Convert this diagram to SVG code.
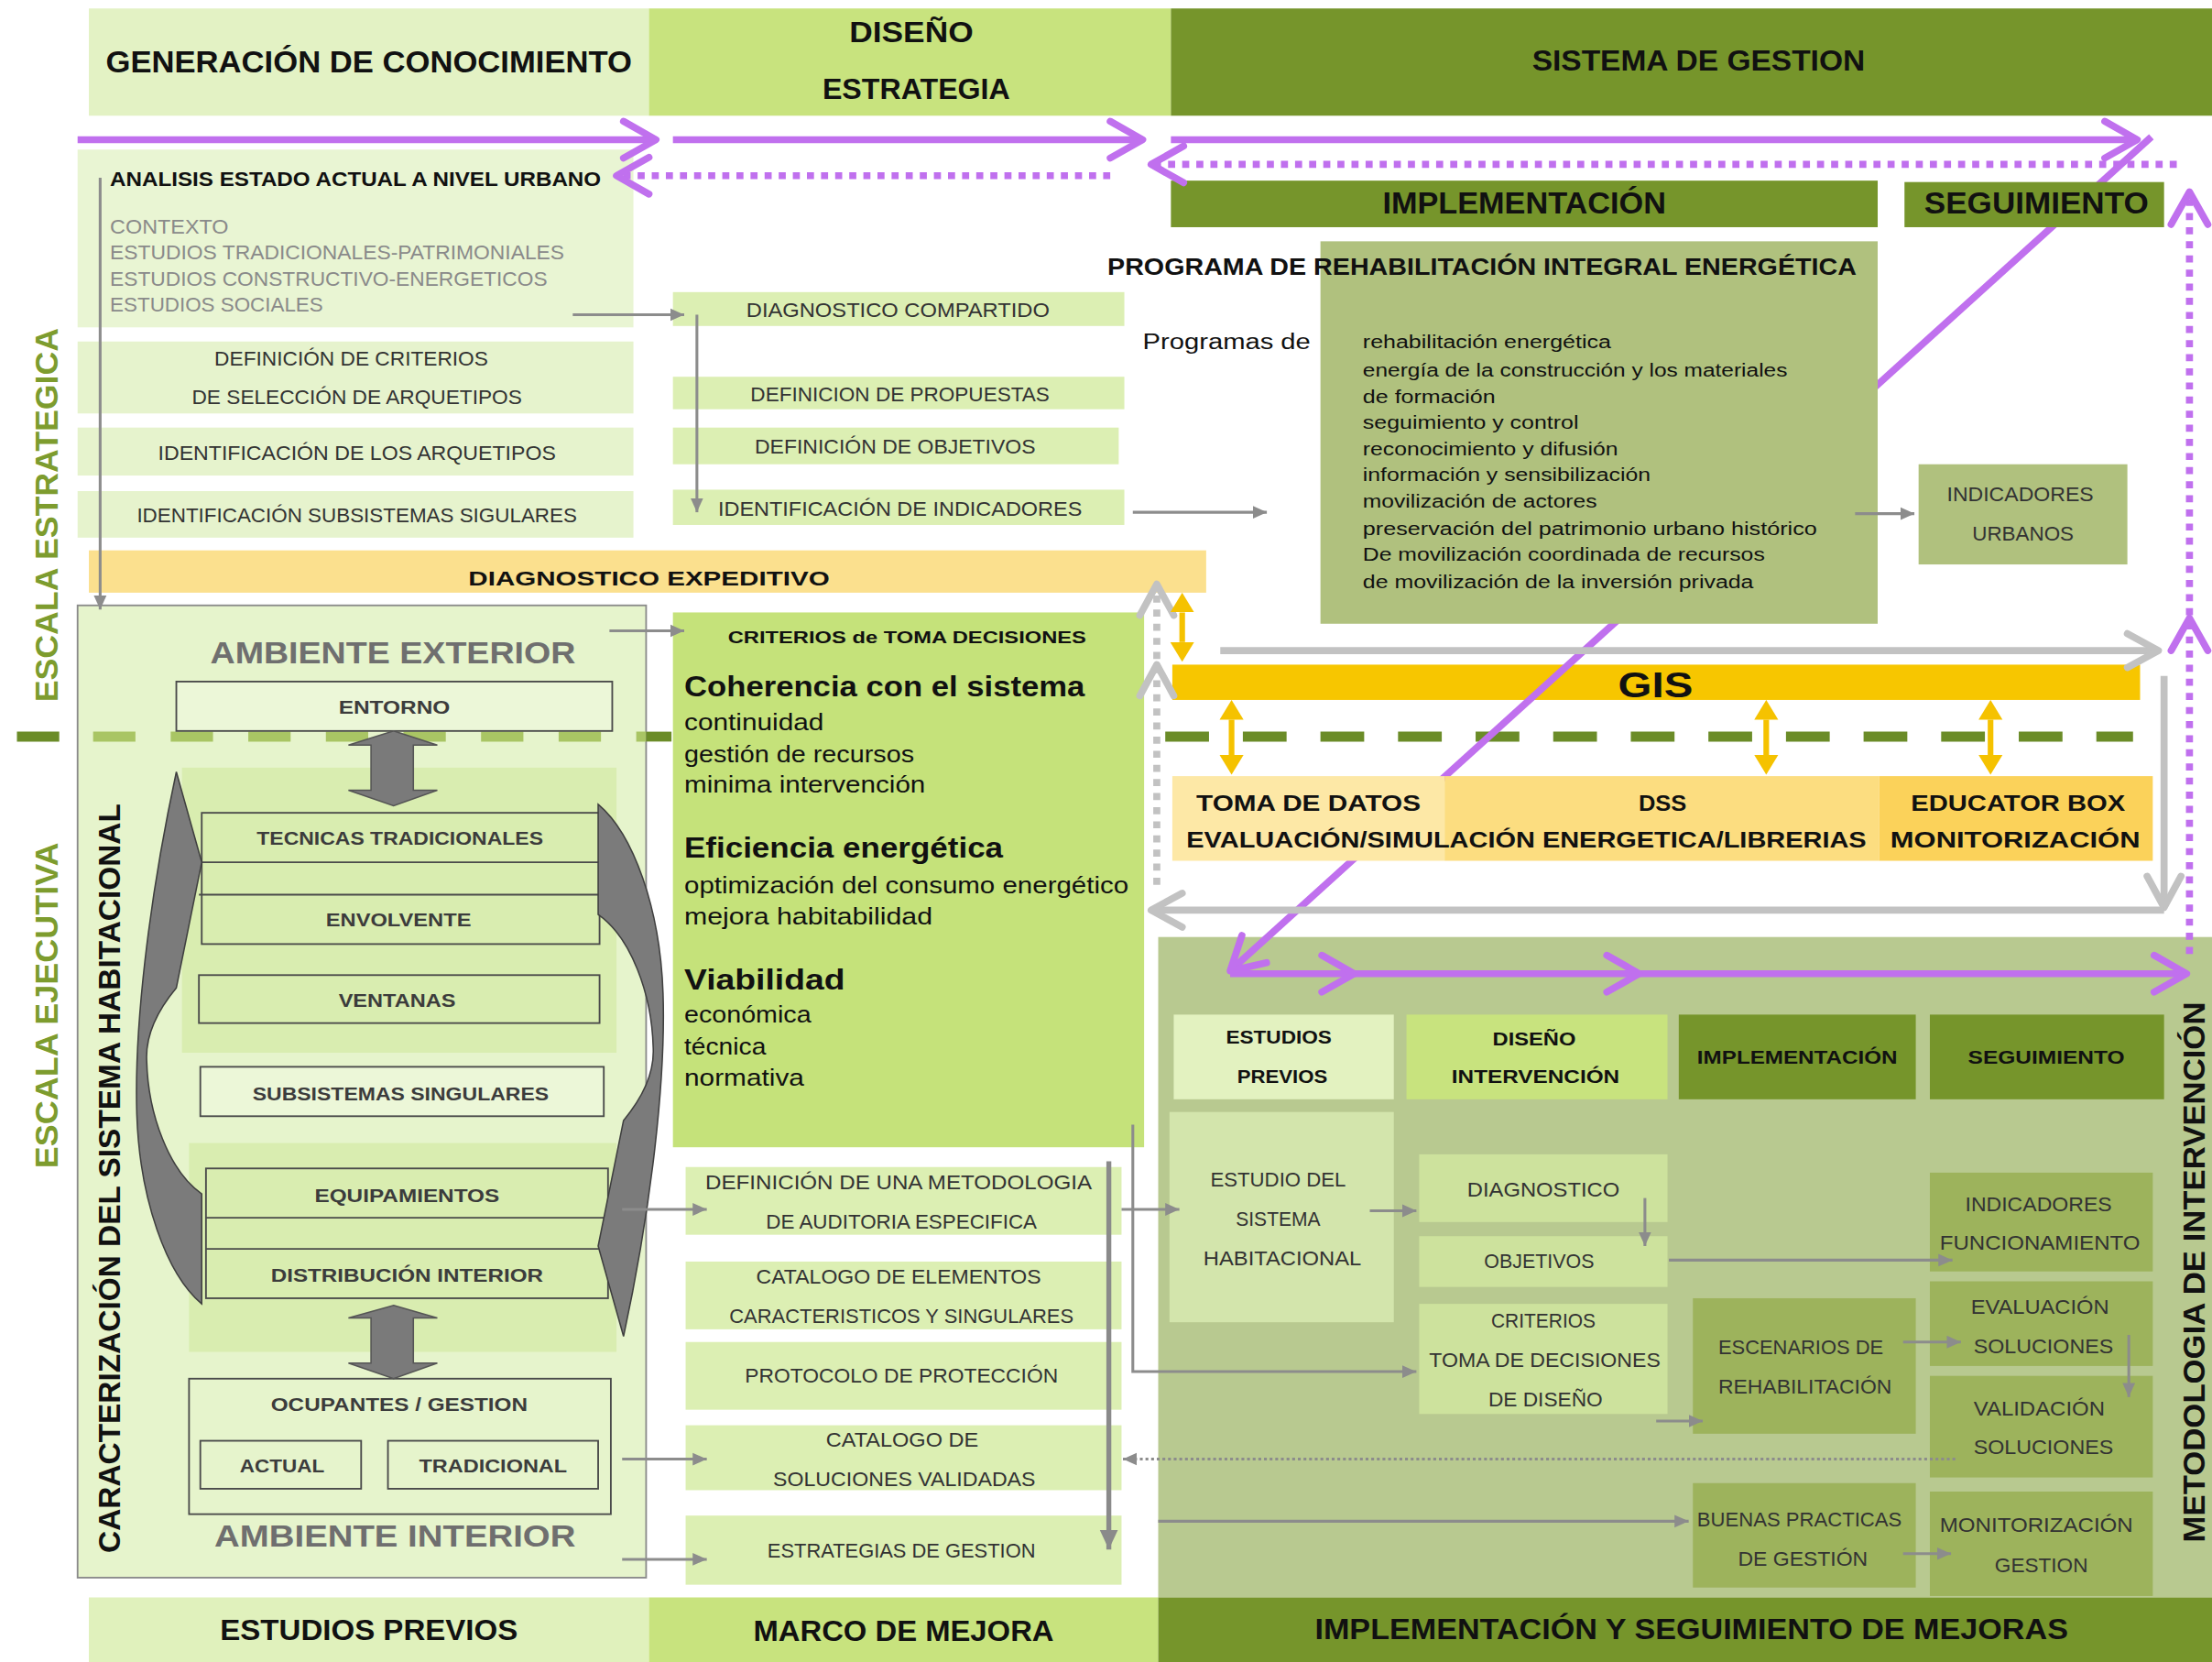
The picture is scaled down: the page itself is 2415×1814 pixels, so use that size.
<svg xmlns="http://www.w3.org/2000/svg" width="2415" height="1814" viewBox="0 0 2415 1814">
<style>
.f{font-family:"Liberation Sans",Arial,"DejaVu Sans",sans-serif}
.c{text-anchor:middle;dominant-baseline:central}
.s{text-anchor:start;dominant-baseline:central}
.a{text-anchor:start}
.b{font-weight:bold}
.k{fill:#111}
.g{fill:#333}
.lg{fill:#8a8a8a}
.gb{fill:#3c3c3c}
.am{fill:#6f6f6f}
.bx{stroke:#4a4a4a;stroke-width:1.2}
.pur{stroke:#c070ee;stroke-width:5;fill:none}
.dot{stroke-dasharray:5 5}
.gl{stroke:#c2c2c2;stroke-width:5;fill:none}
.cn{stroke:#8c8c8c;stroke-width:2;fill:none}
.ya{stroke:#f5c200;stroke-width:4;fill:none}
.pale{fill:#e3f2c4}
.lime{fill:#c8e37e}
.olive{fill:#76952b}
.lbox{fill:#e6f3cd}
.mbox{fill:#dcefb3}
.dbox{fill:#9db35c}
.mid{fill:#cde29d}
</style>
<defs>
<marker id="mPur" viewBox="-30 -16 34 32" refX="0" refY="0" markerWidth="34" markerHeight="32" markerUnits="userSpaceOnUse" orient="auto" overflow="visible"><path d="M-23,-13 L0,0 L-23,13" fill="none" stroke="#c070ee" stroke-width="5" stroke-linecap="round" stroke-linejoin="round"/></marker>
<marker id="mGry" viewBox="-30 -16 34 32" refX="0" refY="0" markerWidth="34" markerHeight="32" markerUnits="userSpaceOnUse" orient="auto" overflow="visible"><path d="M-22,-12 L0,0 L-22,12" fill="none" stroke="#c2c2c2" stroke-width="5" stroke-linecap="round" stroke-linejoin="round"/></marker>
<marker id="mTri" viewBox="-10 -5 10 10" refX="0" refY="0" markerWidth="10" markerHeight="10" markerUnits="userSpaceOnUse" orient="auto"><path d="M-10,-4.5 L0,0 L-10,4.5 Z" fill="#8c8c8c"/></marker>
<marker id="mTriL" viewBox="-14 -7 14 14" refX="0" refY="0" markerWidth="14" markerHeight="14" markerUnits="userSpaceOnUse" orient="auto"><path d="M-14,-6.5 L0,0 L-14,6.5 Z" fill="#8a8a8a"/></marker>
<marker id="mYel" viewBox="0 -9 14 18" refX="0" refY="0" markerWidth="14" markerHeight="18" markerUnits="userSpaceOnUse" orient="auto-start-reverse"><path d="M0,-8.5 L14,0 L0,8.5 Z" fill="#f5c200"/></marker>
</defs>
<rect width="2415" height="1814" fill="#ffffff"/>
<g transform="scale(1.5402)">

<!-- header row -->
<g id="hdr-generacion"><rect x="63" y="6" width="397" height="76" class="pale"/>
<text class="f c b k" x="261.5" y="44" font-size="21" textLength="373" lengthAdjust="spacingAndGlyphs">GENERACIÓN DE CONOCIMIENTO</text></g>
<g id="hdr-diseno"><rect x="460" y="6" width="370" height="76" class="lime"/>
<text class="f c b k" x="646" y="23" font-size="20" textLength="88" lengthAdjust="spacingAndGlyphs">DISEÑO</text>
<text class="f c b k" x="649.5" y="63" font-size="20" textLength="133" lengthAdjust="spacingAndGlyphs">ESTRATEGIA</text></g>
<g id="hdr-sistema"><rect x="830" y="6" width="738" height="76" class="olive"/>
<text class="f c b k" x="1204" y="43" font-size="20" textLength="236" lengthAdjust="spacingAndGlyphs">SISTEMA DE GESTION</text></g>

<!-- left strategic column -->
<g id="analisis-urbano"><rect x="55" y="106" width="394" height="126" fill="#e9f5d3"/>
<text class="f s b k" x="78" y="127" font-size="14" textLength="348" lengthAdjust="spacingAndGlyphs">ANALISIS ESTADO ACTUAL A NIVEL URBANO</text>
<text class="f s lg" x="78" y="161" font-size="14" textLength="84" lengthAdjust="spacingAndGlyphs">CONTEXTO</text>
<text class="f s lg" x="78" y="179" font-size="14" textLength="322" lengthAdjust="spacingAndGlyphs">ESTUDIOS TRADICIONALES-PATRIMONIALES</text>
<text class="f s lg" x="78" y="197.5" font-size="14" textLength="310" lengthAdjust="spacingAndGlyphs">ESTUDIOS CONSTRUCTIVO-ENERGETICOS</text>
<text class="f s lg" x="78" y="216" font-size="14" textLength="151" lengthAdjust="spacingAndGlyphs">ESTUDIOS SOCIALES</text></g>
<g id="criterios-arquetipos"><rect x="55" y="242" width="394" height="51" class="lbox"/>
<text class="f c g" x="249" y="254" font-size="14" textLength="194" lengthAdjust="spacingAndGlyphs">DEFINICIÓN DE CRITERIOS</text>
<text class="f c g" x="253" y="281.5" font-size="14" textLength="234" lengthAdjust="spacingAndGlyphs">DE SELECCIÓN DE ARQUETIPOS</text></g>
<g id="identificacion-arquetipos"><rect x="55" y="303" width="394" height="34" class="lbox"/>
<text class="f c g" x="253" y="321" font-size="14" textLength="282" lengthAdjust="spacingAndGlyphs">IDENTIFICACIÓN DE LOS ARQUETIPOS</text></g>
<g id="identificacion-subsistemas"><rect x="55" y="348" width="394" height="33" class="lbox"/>
<text class="f c g" x="253" y="365" font-size="14" textLength="312" lengthAdjust="spacingAndGlyphs">IDENTIFICACIÓN SUBSISTEMAS SIGULARES</text></g>

<!-- middle strategic column -->
<g id="diagnostico-compartido"><rect x="477" y="207" width="320" height="24" class="mbox"/>
<text class="f c g" x="636.5" y="220" font-size="14" textLength="215" lengthAdjust="spacingAndGlyphs">DIAGNOSTICO COMPARTIDO</text></g>
<g id="definicion-propuestas"><rect x="477" y="267" width="320" height="23" class="mbox"/>
<text class="f c g" x="638" y="279.5" font-size="14" textLength="212" lengthAdjust="spacingAndGlyphs">DEFINICION DE PROPUESTAS</text></g>
<g id="definicion-objetivos"><rect x="477" y="303" width="316" height="26" class="mbox"/>
<text class="f c g" x="634.5" y="316.5" font-size="14" textLength="199" lengthAdjust="spacingAndGlyphs">DEFINICIÓN DE OBJETIVOS</text></g>
<g id="identificacion-indicadores"><rect x="477" y="347" width="320" height="25" class="mbox"/>
<text class="f c g" x="638" y="360.5" font-size="14" textLength="258" lengthAdjust="spacingAndGlyphs">IDENTIFICACIÓN DE INDICADORES</text></g>

<g id="diagnostico-expeditivo"><rect x="63" y="390" width="792" height="30" fill="#fbe08e"/>
<text class="f c b k" x="460" y="410" font-size="14" textLength="256" lengthAdjust="spacingAndGlyphs">DIAGNOSTICO EXPEDITIVO</text></g>

<!-- right strategic -->
<g id="implementacion-top"><rect x="830" y="128" width="501" height="33" class="olive"/>
<text class="f c b k" x="1080.5" y="144" font-size="21" textLength="201" lengthAdjust="spacingAndGlyphs">IMPLEMENTACIÓN</text></g>

<!-- caracterizacion panel -->
<g id="caracterizacion-panel"><rect x="55" y="429" width="403" height="689" fill="#e6f4cc" stroke="#8a8a8a" stroke-width="1.2"/>
<rect x="129" y="544" width="308" height="202" fill="#d9edb0"/>
<rect x="134" y="810" width="303" height="148" fill="#d9edb0"/></g>

<g id="divisoria">
<line x1="66" y1="522" x2="458" y2="522" stroke="#a9c564" stroke-width="7" stroke-dasharray="30 25"/>
<line x1="458" y1="522" x2="476" y2="522" stroke="#6b8c28" stroke-width="7"/>
<line x1="826" y1="522" x2="1512" y2="522" stroke="#6b8c28" stroke-width="7" stroke-dasharray="31 24"/>
<line x1="12" y1="522" x2="42" y2="522" stroke="#6b8c28" stroke-width="7"/></g>

<g id="criterios-decision"><rect x="477" y="434" width="334" height="379" fill="#c5e27a"/>
<text class="f c b k" x="643" y="452" font-size="11.5" textLength="254" lengthAdjust="spacingAndGlyphs">CRITERIOS de TOMA DECISIONES</text>
<text class="f a b k" x="485" y="493.5" font-size="20" textLength="284" lengthAdjust="spacingAndGlyphs">Coherencia con el sistema</text>
<text class="f a k" x="485" y="517.5" font-size="16.5" textLength="99" lengthAdjust="spacingAndGlyphs">continuidad</text>
<text class="f a k" x="485" y="540" font-size="16.5" textLength="163" lengthAdjust="spacingAndGlyphs">gestión de recursos</text>
<text class="f a k" x="485" y="561.7" font-size="16.5" textLength="171" lengthAdjust="spacingAndGlyphs">minima intervención</text>
<text class="f a b k" x="485" y="608" font-size="20" textLength="226" lengthAdjust="spacingAndGlyphs">Eficiencia energética</text>
<text class="f a k" x="485" y="632.8" font-size="16.5" textLength="315" lengthAdjust="spacingAndGlyphs">optimización del consumo energético</text>
<text class="f a k" x="485" y="654.8" font-size="16.5" textLength="176" lengthAdjust="spacingAndGlyphs">mejora habitabilidad</text>
<text class="f a b k" x="485" y="701" font-size="20" textLength="114" lengthAdjust="spacingAndGlyphs">Viabilidad</text>
<text class="f a k" x="485" y="724.4" font-size="16.5" textLength="90" lengthAdjust="spacingAndGlyphs">económica</text>
<text class="f a k" x="485" y="747.5" font-size="16.5" textLength="58" lengthAdjust="spacingAndGlyphs">técnica</text>
<text class="f a k" x="485" y="769.5" font-size="16.5" textLength="85" lengthAdjust="spacingAndGlyphs">normativa</text></g>

<!-- middle executive boxes -->
<g id="metodologia-auditoria"><rect x="486" y="827" width="309" height="48" class="mbox"/>
<text class="f c g" x="637" y="838" font-size="14" textLength="274" lengthAdjust="spacingAndGlyphs">DEFINICIÓN DE UNA METODOLOGIA</text>
<text class="f c g" x="639" y="865.5" font-size="14" textLength="192" lengthAdjust="spacingAndGlyphs">DE AUDITORIA ESPECIFICA</text></g>
<g id="catalogo-elementos"><rect x="486" y="894" width="309" height="48" class="mbox"/>
<text class="f c g" x="637" y="904.5" font-size="14" textLength="202" lengthAdjust="spacingAndGlyphs">CATALOGO DE ELEMENTOS</text>
<text class="f c g" x="639" y="932.5" font-size="14" textLength="244" lengthAdjust="spacingAndGlyphs">CARACTERISTICOS Y SINGULARES</text></g>
<g id="protocolo-proteccion"><rect x="486" y="951" width="309" height="48" class="mbox"/>
<text class="f c g" x="639" y="975" font-size="14" textLength="222" lengthAdjust="spacingAndGlyphs">PROTOCOLO DE PROTECCIÓN</text></g>
<g id="catalogo-soluciones"><rect x="486" y="1010" width="309" height="46" class="mbox"/>
<text class="f c g" x="639.5" y="1020.5" font-size="14" textLength="108" lengthAdjust="spacingAndGlyphs">CATALOGO DE</text>
<text class="f c g" x="641" y="1048" font-size="14" textLength="186" lengthAdjust="spacingAndGlyphs">SOLUCIONES VALIDADAS</text></g>
<g id="estrategias-gestion"><rect x="486" y="1074" width="309" height="49" class="mbox"/>
<text class="f c g" x="639" y="1099" font-size="14" textLength="190" lengthAdjust="spacingAndGlyphs">ESTRATEGIAS DE GESTION</text></g>

<!-- GIS -->
<g id="gis"><rect x="831" y="471" width="686" height="25" fill="#f7c600"/>
<text class="f c b k" x="1173.5" y="485.5" font-size="25" textLength="53" lengthAdjust="spacingAndGlyphs">GIS</text></g>

<!-- bottom right panel -->
<g id="metodologia-panel"><rect x="821" y="664" width="747" height="468" fill="#b8c990"/>
<text class="f c b k" transform="translate(1555,901.5) rotate(-90)" x="0" y="0" font-size="22" textLength="383" lengthAdjust="spacingAndGlyphs">METODOLOGIA DE INTERVENCIÓN</text></g>

<!-- connectors under boxes -->
<g id="connectors-under">
<line x1="1525" y1="97" x2="872" y2="688" class="pur" marker-end="url(#mPur)"/>
</g>

<g id="seguimiento-top"><rect x="1350" y="129" width="184" height="32" class="olive"/>
<text class="f c b k" x="1443.5" y="144" font-size="21" textLength="159" lengthAdjust="spacingAndGlyphs">SEGUIMIENTO</text></g>

<g id="programa-rehabilitacion"><rect x="936" y="171" width="395" height="271" fill="#b0c17e"/>
<text class="f c b k" x="1050.5" y="189" font-size="17" textLength="531" lengthAdjust="spacingAndGlyphs">PROGRAMA DE REHABILITACIÓN INTEGRAL ENERGÉTICA</text>
<text class="f s k" x="810" y="242" font-size="15" textLength="119" lengthAdjust="spacingAndGlyphs">Programas de</text>
<text class="f s k" x="966" y="242" font-size="13.5" textLength="176" lengthAdjust="spacingAndGlyphs">rehabilitación energética</text>
<text class="f s k" x="966" y="262.3" font-size="13.5" textLength="301" lengthAdjust="spacingAndGlyphs">energía de la construcción y los materiales</text>
<text class="f s k" x="966" y="280.5" font-size="13.5" textLength="94" lengthAdjust="spacingAndGlyphs">de formación</text>
<text class="f s k" x="966" y="299" font-size="13.5" textLength="153" lengthAdjust="spacingAndGlyphs">seguimiento y control</text>
<text class="f s k" x="966" y="318" font-size="13.5" textLength="181" lengthAdjust="spacingAndGlyphs">reconocimiento y difusión</text>
<text class="f s k" x="966" y="336.3" font-size="13.5" textLength="204" lengthAdjust="spacingAndGlyphs">información y sensibilización</text>
<text class="f s k" x="966" y="355" font-size="13.5" textLength="166" lengthAdjust="spacingAndGlyphs">movilización de actores</text>
<text class="f s k" x="966" y="374" font-size="13.5" textLength="322" lengthAdjust="spacingAndGlyphs">preservación del patrimonio urbano histórico</text>
<text class="f s k" x="966" y="392.8" font-size="13.5" textLength="285" lengthAdjust="spacingAndGlyphs">De movilización coordinada de recursos</text>
<text class="f s k" x="966" y="411.7" font-size="13.5" textLength="277" lengthAdjust="spacingAndGlyphs">de movilización de la inversión privada</text></g>

<g id="indicadores-urbanos"><rect x="1360" y="329" width="148" height="71" fill="#b0c17e"/>
<text class="f c g" x="1432" y="350" font-size="14" textLength="104" lengthAdjust="spacingAndGlyphs">INDICADORES</text>
<text class="f c g" x="1434" y="378.5" font-size="14" textLength="72" lengthAdjust="spacingAndGlyphs">URBANOS</text></g>

<g id="toma-datos"><rect x="831" y="550" width="193" height="60" fill="#fde8a6"/>
<text class="f c b k" x="927.5" y="569" font-size="16" textLength="159" lengthAdjust="spacingAndGlyphs">TOMA DE DATOS</text></g>
<g id="dss"><rect x="1024" y="550" width="308" height="60" fill="#fcdd80"/>
<text class="f c b k" x="1178.5" y="569" font-size="16" textLength="34" lengthAdjust="spacingAndGlyphs">DSS</text></g>
<g id="educator-box"><rect x="1332" y="550" width="194" height="60" fill="#fbd25a"/>
<text class="f c b k" x="1430.5" y="569" font-size="16" textLength="152" lengthAdjust="spacingAndGlyphs">EDUCATOR BOX</text>
<text class="f c b k" x="1428.5" y="595" font-size="16" textLength="177" lengthAdjust="spacingAndGlyphs">MONITORIZACIÓN</text></g>
<g id="evaluacion-simulacion">
<text class="f c b k" x="1082" y="595" font-size="16" textLength="482" lengthAdjust="spacingAndGlyphs">EVALUACIÓN/SIMULACIÓN ENERGETICA/LIBRERIAS</text></g>

<!-- caracterizacion contents -->
<g id="ambiente-exterior">
<text class="f c b am" x="278.5" y="463" font-size="21" textLength="259" lengthAdjust="spacingAndGlyphs">AMBIENTE EXTERIOR</text></g>
<g id="entorno"><rect x="125" y="483" width="309" height="35" fill="#ecf7d8" class="bx"/>
<text class="f c b gb" x="279.5" y="501" font-size="13" textLength="79" lengthAdjust="spacingAndGlyphs">ENTORNO</text></g>
<g id="tecnicas-envolvente">
<rect x="143" y="576" width="282" height="93" fill="none" class="bx"/>
<line x1="143" y1="611" x2="425" y2="611" class="bx"/>
<line x1="141" y1="634" x2="425" y2="634" class="bx"/>
<text class="f c b gb" x="283.5" y="594" font-size="13" textLength="203" lengthAdjust="spacingAndGlyphs">TECNICAS TRADICIONALES</text>
<text class="f c b gb" x="282.5" y="652" font-size="13" textLength="103" lengthAdjust="spacingAndGlyphs">ENVOLVENTE</text></g>
<g id="ventanas"><rect x="141" y="691" width="284" height="34" fill="none" class="bx"/>
<text class="f c b gb" x="281.5" y="709" font-size="13" textLength="83" lengthAdjust="spacingAndGlyphs">VENTANAS</text></g>
<g id="subsistemas-singulares"><rect x="142" y="756" width="286" height="35" fill="#ecf7d8" class="bx"/>
<text class="f c b gb" x="284" y="775" font-size="13" textLength="210" lengthAdjust="spacingAndGlyphs">SUBSISTEMAS SINGULARES</text></g>
<g id="equipamientos-distribucion">
<rect x="146" y="828" width="285" height="92" fill="none" class="bx"/>
<line x1="146" y1="863" x2="431" y2="863" class="bx"/>
<line x1="146" y1="885" x2="431" y2="885" class="bx"/>
<text class="f c b gb" x="288.5" y="847.5" font-size="13" textLength="131" lengthAdjust="spacingAndGlyphs">EQUIPAMIENTOS</text>
<text class="f c b gb" x="288.5" y="904" font-size="13" textLength="193" lengthAdjust="spacingAndGlyphs">DISTRIBUCIÓN INTERIOR</text></g>
<g id="ocupantes-gestion"><rect x="134" y="977" width="299" height="96" fill="none" class="bx"/>
<text class="f c b gb" x="283" y="995.5" font-size="13" textLength="182" lengthAdjust="spacingAndGlyphs">OCUPANTES / GESTION</text>
<rect x="142" y="1021" width="114" height="34" fill="none" class="bx"/>
<text class="f c b gb" x="200" y="1039" font-size="13" textLength="60" lengthAdjust="spacingAndGlyphs">ACTUAL</text>
<rect x="275" y="1021" width="149" height="34" fill="none" class="bx"/>
<text class="f c b gb" x="349.5" y="1039" font-size="13" textLength="105" lengthAdjust="spacingAndGlyphs">TRADICIONAL</text></g>
<g id="ambiente-interior">
<text class="f c b am" x="280" y="1089" font-size="21" textLength="256" lengthAdjust="spacingAndGlyphs">AMBIENTE INTERIOR</text></g>
<g id="flechas-ciclo">
<path id="curvL" d="M125,547 L143,611 L125,700 C110,718 103,735 104,752 C105,790 120,830 143,846 L143,924 C118,903 99,850 97,790 C95,730 105,640 125,547 Z" fill="#7b7b7b" stroke="#3f3f3f" stroke-width="1"/>
<use href="#curvL" transform="rotate(180 283.5 747)"/>
<path d="M279,518 L310,528 L293,528 L293,560 L310,560 L279,571 L247,560 L263,560 L263,528 L247,528 Z" fill="#7a7a7a" stroke="#555" stroke-width="1"/>
<path d="M279,925 L310,934 L293,934 L293,966 L310,966 L279,977 L247,966 L263,966 L263,934 L247,934 Z" fill="#7a7a7a" stroke="#555" stroke-width="1"/></g>

<!-- bottom right nodes -->
<g id="h-estudios-previos"><rect x="832" y="719" width="156" height="60" fill="#e3f2c0"/>
<text class="f c b k" x="906.5" y="735" font-size="13" textLength="75" lengthAdjust="spacingAndGlyphs">ESTUDIOS</text>
<text class="f c b k" x="909" y="763" font-size="13" textLength="64" lengthAdjust="spacingAndGlyphs">PREVIOS</text></g>
<g id="h-diseno-intervencion"><rect x="997" y="719" width="185" height="60" class="lime"/>
<text class="f c b k" x="1087.5" y="736" font-size="13" textLength="59" lengthAdjust="spacingAndGlyphs">DISEÑO</text>
<text class="f c b k" x="1088.5" y="763" font-size="13" textLength="119" lengthAdjust="spacingAndGlyphs">INTERVENCIÓN</text></g>
<g id="h-implementacion"><rect x="1190" y="719" width="168" height="60" class="olive"/>
<text class="f c b k" x="1274" y="749" font-size="13" textLength="142" lengthAdjust="spacingAndGlyphs">IMPLEMENTACIÓN</text></g>
<g id="h-seguimiento"><rect x="1368" y="719" width="166" height="60" class="olive"/>
<text class="f c b k" x="1450.5" y="749" font-size="13" textLength="111" lengthAdjust="spacingAndGlyphs">SEGUIMIENTO</text></g>
<g id="estudio-sistema"><rect x="829" y="788" width="159" height="149" fill="#d3e5ac"/>
<text class="f c g" x="906" y="836" font-size="14" textLength="96" lengthAdjust="spacingAndGlyphs">ESTUDIO DEL</text>
<text class="f c g" x="906" y="864" font-size="14" textLength="60" lengthAdjust="spacingAndGlyphs">SISTEMA</text>
<text class="f c g" x="909" y="892" font-size="14" textLength="112" lengthAdjust="spacingAndGlyphs">HABITACIONAL</text></g>
<g id="diagnostico"><rect x="1006" y="818" width="176" height="48" class="mid"/>
<text class="f c g" x="1094" y="843" font-size="14" textLength="108" lengthAdjust="spacingAndGlyphs">DIAGNOSTICO</text></g>
<g id="objetivos"><rect x="1006" y="876" width="176" height="36" class="mid"/>
<text class="f c g" x="1091" y="894" font-size="14" textLength="78" lengthAdjust="spacingAndGlyphs">OBJETIVOS</text></g>
<g id="criterios-diseno"><rect x="1006" y="924" width="176" height="78" class="mid"/>
<text class="f c g" x="1094" y="936" font-size="14" textLength="74" lengthAdjust="spacingAndGlyphs">CRITERIOS</text>
<text class="f c g" x="1095" y="964" font-size="14" textLength="164" lengthAdjust="spacingAndGlyphs">TOMA DE DECISIONES</text>
<text class="f c g" x="1095.5" y="992" font-size="14" textLength="81" lengthAdjust="spacingAndGlyphs">DE DISEÑO</text></g>
<g id="escenarios"><rect x="1200" y="920" width="158" height="96" class="dbox"/>
<text class="f c g" x="1276.5" y="954.5" font-size="14" textLength="117" lengthAdjust="spacingAndGlyphs">ESCENARIOS DE</text>
<text class="f c g" x="1279.5" y="982.5" font-size="14" textLength="123" lengthAdjust="spacingAndGlyphs">REHABILITACIÓN</text></g>
<g id="indicadores-funcionamiento"><rect x="1368" y="831" width="158" height="70" class="dbox"/>
<text class="f c g" x="1445" y="853.5" font-size="14" textLength="104" lengthAdjust="spacingAndGlyphs">INDICADORES</text>
<text class="f c g" x="1446" y="881" font-size="14" textLength="142" lengthAdjust="spacingAndGlyphs">FUNCIONAMIENTO</text></g>
<g id="evaluacion-soluciones"><rect x="1368" y="908" width="158" height="60" class="dbox"/>
<text class="f c g" x="1446" y="926.5" font-size="14" textLength="98" lengthAdjust="spacingAndGlyphs">EVALUACIÓN</text>
<text class="f c g" x="1448.5" y="954" font-size="14" textLength="99" lengthAdjust="spacingAndGlyphs">SOLUCIONES</text></g>
<g id="validacion-soluciones"><rect x="1368" y="975" width="158" height="72" class="dbox"/>
<text class="f c g" x="1445.5" y="998" font-size="14" textLength="93" lengthAdjust="spacingAndGlyphs">VALIDACIÓN</text>
<text class="f c g" x="1448.5" y="1025.6" font-size="14" textLength="99" lengthAdjust="spacingAndGlyphs">SOLUCIONES</text></g>
<g id="buenas-practicas"><rect x="1200" y="1051" width="158" height="74" class="dbox"/>
<text class="f c g" x="1275.5" y="1076.5" font-size="14" textLength="145" lengthAdjust="spacingAndGlyphs">BUENAS PRACTICAS</text>
<text class="f c g" x="1278" y="1104.5" font-size="14" textLength="92" lengthAdjust="spacingAndGlyphs">DE GESTIÓN</text></g>
<g id="monitorizacion-gestion"><rect x="1368" y="1057" width="158" height="74" class="dbox"/>
<text class="f c g" x="1443.5" y="1081" font-size="14" textLength="137" lengthAdjust="spacingAndGlyphs">MONITORIZACIÓN</text>
<text class="f c g" x="1447" y="1109" font-size="14" textLength="66" lengthAdjust="spacingAndGlyphs">GESTION</text></g>

<!-- bottom row -->
<g id="ftr-estudios-previos"><rect x="63" y="1132" width="397" height="46" fill="#e0f1bc"/>
<text class="f c b k" x="261.5" y="1155.5" font-size="20" textLength="211" lengthAdjust="spacingAndGlyphs">ESTUDIOS PREVIOS</text></g>
<g id="ftr-marco-mejora"><rect x="460" y="1132" width="361" height="46" class="lime"/>
<text class="f c b k" x="640.5" y="1156" font-size="20" textLength="213" lengthAdjust="spacingAndGlyphs">MARCO DE MEJORA</text></g>
<g id="ftr-implementacion"><rect x="821" y="1132" width="747" height="46" class="olive"/>
<text class="f c b k" x="1199" y="1155" font-size="20" textLength="534" lengthAdjust="spacingAndGlyphs">IMPLEMENTACIÓN Y SEGUIMIENTO DE MEJORAS</text></g>

<!-- scale labels -->
<g id="escalas">
<text class="f c b" fill="#7d9c2e" transform="translate(33,365) rotate(-90)" x="0" y="0" font-size="23" textLength="265" lengthAdjust="spacingAndGlyphs">ESCALA ESTRATEGICA</text>
<text class="f c b" fill="#7d9c2e" transform="translate(33,712.5) rotate(-90)" x="0" y="0" font-size="23" textLength="231" lengthAdjust="spacingAndGlyphs">ESCALA EJECUTIVA</text>
<text class="f c b k" transform="translate(78,835) rotate(-90)" x="0" y="0" font-size="21" textLength="531" lengthAdjust="spacingAndGlyphs">CARACTERIZACIÓN DEL SISTEMA HABITACIONAL</text></g>

<!-- connectors -->
<g id="connectors">
<line x1="55" y1="99" x2="465" y2="99" class="pur" marker-end="url(#mPur)"/>
<line x1="477" y1="99" x2="810" y2="99" class="pur" marker-end="url(#mPur)"/>
<line x1="830" y1="99" x2="1515" y2="99" class="pur" marker-end="url(#mPur)"/>
<line x1="787" y1="124.5" x2="437" y2="124.5" class="pur dot" marker-end="url(#mPur)"/>
<line x1="1543" y1="116.5" x2="816" y2="116.5" class="pur dot" marker-end="url(#mPur)"/>
<polyline points="1552,676 1552,438 1552,136" class="pur dot" marker-mid="url(#mPur)" marker-end="url(#mPur)"/>
<polyline points="872,690 960,690 1162,690 1550,690" class="pur" marker-mid="url(#mPur)" marker-end="url(#mPur)"/>

<line x1="865" y1="461" x2="1530" y2="461" class="gl" marker-end="url(#mGry)"/>
<line x1="1534" y1="479" x2="1534" y2="643" class="gl" marker-end="url(#mGry)"/>
<line x1="1534" y1="645" x2="816" y2="645" class="gl" marker-end="url(#mGry)"/>
<polyline points="820,627 820,471 820,414" class="gl dot" marker-mid="url(#mGry)" marker-end="url(#mGry)"/>

<line x1="838" y1="434" x2="838" y2="455" class="ya" marker-start="url(#mYel)" marker-end="url(#mYel)"/>
<line x1="873" y1="510" x2="873" y2="535" class="ya" marker-start="url(#mYel)" marker-end="url(#mYel)"/>
<line x1="1252" y1="510" x2="1252" y2="535" class="ya" marker-start="url(#mYel)" marker-end="url(#mYel)"/>
<line x1="1411" y1="510" x2="1411" y2="535" class="ya" marker-start="url(#mYel)" marker-end="url(#mYel)"/>

<line x1="71" y1="126" x2="71" y2="432" class="cn" marker-end="url(#mTri)"/>
<line x1="406" y1="223" x2="485" y2="223" class="cn" marker-end="url(#mTri)"/>
<line x1="494" y1="223" x2="494" y2="363" class="cn" marker-end="url(#mTri)"/>
<line x1="803" y1="363" x2="898" y2="363" class="cn" marker-end="url(#mTri)"/>
<line x1="1315" y1="364" x2="1357" y2="364" class="cn" marker-end="url(#mTri)"/>
<line x1="432" y1="447" x2="485" y2="447" class="cn" marker-end="url(#mTri)"/>
<line x1="441" y1="857" x2="501" y2="857" class="cn" marker-end="url(#mTri)"/>
<line x1="441" y1="1034" x2="501" y2="1034" class="cn" marker-end="url(#mTri)"/>
<line x1="441" y1="1105" x2="501" y2="1105" class="cn" marker-end="url(#mTri)"/>
<line x1="786" y1="823" x2="786" y2="1098" stroke="#8a8a8a" stroke-width="3.5" marker-end="url(#mTriL)"/>
<polyline points="803,797 803,972 1004,972" class="cn" marker-end="url(#mTri)"/>
<line x1="795" y1="857" x2="836" y2="857" class="cn" marker-end="url(#mTri)"/>
<line x1="971" y1="858" x2="1004" y2="858" class="cn" marker-end="url(#mTri)"/>
<line x1="1166" y1="849" x2="1166" y2="883" class="cn" marker-end="url(#mTri)"/>
<line x1="1183" y1="893" x2="1384" y2="893" class="cn" marker-end="url(#mTri)"/>
<line x1="1174" y1="1007" x2="1207" y2="1007" class="cn" marker-end="url(#mTri)"/>
<line x1="1349" y1="951" x2="1390" y2="951" class="cn" marker-end="url(#mTri)"/>
<line x1="1509" y1="946" x2="1509" y2="990" class="cn" marker-end="url(#mTri)"/>
<line x1="1349" y1="1101" x2="1383" y2="1101" class="cn" marker-end="url(#mTri)"/>
<line x1="821" y1="1078" x2="1197" y2="1078" class="cn" marker-end="url(#mTri)"/>
<line x1="1386" y1="1034" x2="796" y2="1034" class="cn" stroke-dasharray="2 2" marker-end="url(#mTri)"/>
</g>
</g>
</svg>
